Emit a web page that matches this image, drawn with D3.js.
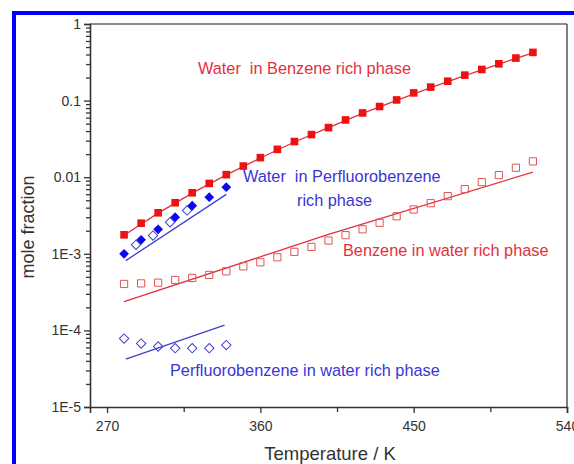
<!DOCTYPE html>
<html><head><meta charset="utf-8">
<script src="https://cdn.jsdelivr.net/npm/d3@7"></script>
<style>body{margin:0;background:#fff;}svg{display:block;font-family:"Liberation Sans",Arial,sans-serif;}</style>
</head><body>
<svg id="c" width="574" height="464"></svg>
<script>
// ---- data ----
const tempWB = [280,290,300,310,320,330,340,350,360,370,380,390,400,410,420,430,440,450,460,470,480,490,500,510,520];
const waterInBenzene = [1.77e-3,2.51e-3,3.43e-3,4.64e-3,6.26e-3,8.29e-3,0.0108,0.01397,0.0180,0.0231,0.0292,0.0360,0.0444,0.0559,0.0690,0.0837,0.102,0.126,0.150,0.179,0.215,0.255,0.302,0.359,0.426];
const waterInBenzeneLineT = [280,300,320,340,360,380,400,420,440,460,480,500,520];
const waterInBenzeneLine = [1.75e-3,3.4e-3,6.2e-3,0.0107,0.0178,0.0288,0.0445,0.068,0.101,0.148,0.212,0.300,0.420];

const benzeneInWater = [4.04e-4,4.11e-4,4.20e-4,4.55e-4,4.84e-4,5.30e-4,5.90e-4,6.86e-4,7.74e-4,9.0e-4,1.06e-3,1.23e-3,1.49e-3,1.75e-3,2.09e-3,2.54e-3,3.09e-3,3.79e-3,4.58e-3,5.66e-3,6.99e-3,8.63e-3,0.01065,0.0133,0.0161];
const benzeneInWaterLineT = [280,400,520];
const benzeneInWaterLine = [2.38e-4,1.79e-3,0.01166];

const tempPF = [280,290,300,310,320,330,340];
const waterInPF = [1.0e-3,1.52e-3,2.09e-3,3.0e-3,4.24e-3,5.49e-3,7.41e-3];
const tempPF2 = [287,297,307,317];
const waterInPF2 = [1.31e-3,1.73e-3,2.58e-3,3.68e-3];
const waterInPFLineT = [281,340];
const waterInPFLine = [8.15e-4,5.96e-3];

const pfInWater = [7.83e-5,6.74e-5,6.16e-5,5.86e-5,5.86e-5,5.86e-5,6.43e-5];
const pfInWaterLineT = [281,339];
const pfInWaterLine = [4.21e-5,1.17e-4];

const xTicks = [270,360,450,540];
const xMinor = [315,405,495];
const yTicks = [1,0.1,0.01,1e-3,1e-4,1e-5];
const yTickLabels = ["1","0.1","0.01","1E-3","1E-4","1E-5"];

// ---- layout ----
const svg = d3.select("#c");
const L=90, R=567, T=24, B=407;
const x = d3.scaleLinear().domain([260,540]).range([L,R]);
const y = d3.scaleLog().domain([1e-5,1]).range([B,T]);

const RED="#ee1111", REDT="#e3303c", REDO="#e05555", BLUE="#0a0af0", BLUET="#3a35d8", BLUEL="#3f3fd0";

// blue border
svg.append("rect").attr("x",12).attr("y",11).attr("width",4).attr("height",453).attr("fill","#0000ff");
svg.append("rect").attr("x",12).attr("y",11).attr("width",562).attr("height",4).attr("fill","#0000ff");

// frame
svg.append("line").attr("x1",L).attr("x2",R).attr("y1",T).attr("y2",T).attr("stroke","#666").attr("stroke-width",1.5);
svg.append("line").attr("x1",R).attr("x2",R).attr("y1",T).attr("y2",B).attr("stroke","#555").attr("stroke-width",1.5);

// y axis
const minorY=[];
for(let e=-5;e<0;e++) for(let k=2;k<=9;k++) minorY.push(k*Math.pow(10,e));
const yAxis = d3.axisLeft(y).tickValues(yTicks).tickFormat((d,i)=>yTickLabels[i]).tickSize(6).tickPadding(3);
const gy = svg.append("g").attr("transform",`translate(${L},0)`).call(yAxis);
const yMinorAxis = d3.axisLeft(y).tickValues(minorY).tickFormat("").tickSize(4);
const gym = svg.append("g").attr("transform",`translate(${L},0)`).call(yMinorAxis);
gym.select(".domain").remove();

// x axis
const xAxis = d3.axisBottom(x).tickValues(xTicks).tickSize(6).tickPadding(8);
const gx = svg.append("g").attr("transform",`translate(0,${B})`).call(xAxis);
const xMinorAxis = d3.axisBottom(x).tickValues(xMinor).tickFormat("").tickSize(5);
const gxm = svg.append("g").attr("transform",`translate(0,${B})`).call(xMinorAxis);
gxm.select(".domain").remove();

[gy,gym,gx,gxm].forEach(g=>{
  g.selectAll(".domain").attr("stroke","#333").attr("stroke-width",1.6);
  g.selectAll(".tick line").attr("stroke","#333").attr("stroke-width",1.3);
  g.selectAll(".tick text").attr("fill","#333").style("font-size","14px").style("font-family","'Liberation Sans',Arial,sans-serif");
});

// axis titles
svg.append("text").attr("x",330).attr("y",460).attr("text-anchor","middle").attr("fill","#333").style("font-size","18.5px").text("Temperature / K");
svg.append("text").attr("transform","translate(34,227) rotate(-90)").attr("text-anchor","middle").attr("fill","#333").style("font-size","18px").text("mole fraction");

// lines
const line = d3.line().x(d=>x(d[0])).y(d=>y(d[1]));
function drawLine(ts,vs,col){
  svg.append("path").datum(ts.map((t,i)=>[t,vs[i]])).attr("d",line).attr("fill","none").attr("stroke",col).attr("stroke-width",1.3);
}
drawLine(waterInBenzeneLineT,waterInBenzeneLine,REDT);
drawLine(benzeneInWaterLineT,benzeneInWaterLine,REDT);
drawLine(waterInPFLineT,waterInPFLine,BLUEL);
drawLine(pfInWaterLineT,pfInWaterLine,BLUEL);

// markers
const sq = d3.symbol().type(d3.symbolSquare).size(58);
const sqO = d3.symbol().type(d3.symbolSquare).size(52);
const diaF = d3.symbol().type(d3.symbolSquare).size(48);
const diaO = d3.symbol().type(d3.symbolSquare).size(44);
function drawMarkers(ts,vs,sym,fill,stroke,rot){
  svg.append("g").selectAll("path").data(ts.map((t,i)=>[t,vs[i]])).join("path")
    .attr("d",sym).attr("transform",d=>`translate(${x(d[0])},${y(d[1])}) rotate(${rot||0})`)
    .attr("fill",fill).attr("stroke",stroke).attr("stroke-width",1);
}
drawMarkers(tempWB,benzeneInWater,sqO,"none",REDO);
drawMarkers(tempPF,pfInWater,diaO,"none",BLUEL,45);
drawMarkers(tempPF2,waterInPF2,diaO,"none",BLUEL,45);
drawMarkers(tempWB,waterInBenzene,sq,RED,"none");
drawMarkers(tempPF,waterInPF,diaF,BLUE,"none",45);

// annotations
function label(txt,xp,yp,col){
  svg.append("text").attr("x",xp).attr("y",yp).attr("fill",col).style("font-size","16.3px").style("white-space","pre").text(txt);
}
label("Water  in Benzene rich phase",198,74,REDT);
label("Water  in Perfluorobenzene",243,182,BLUET);
label("rich phase",297,206,BLUET);
label("Benzene in water rich phase",343,256,REDT);
label("Perfluorobenzene in water rich phase",170,376,BLUET);
</script>
</body></html>
